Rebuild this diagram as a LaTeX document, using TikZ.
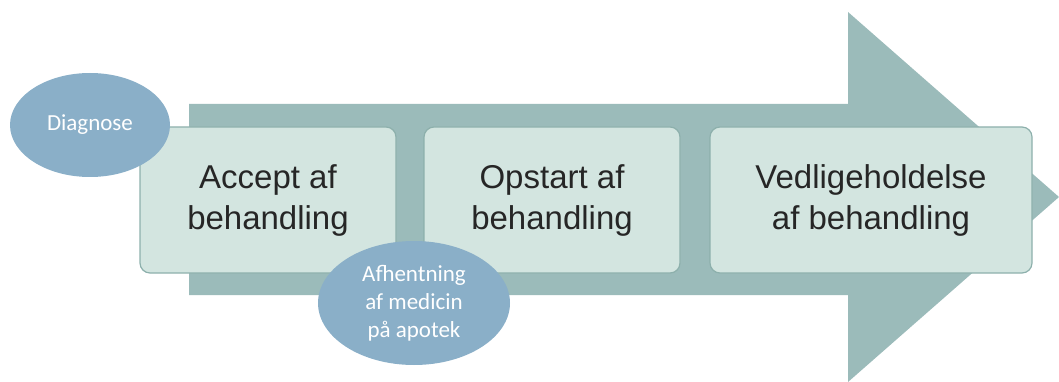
\documentclass[tikz,border=0pt]{standalone}
\usepackage{fontspec}
\setmainfont{Liberation Sans}
\newfontfamily\calibri{Carlito}
\usetikzlibrary{shapes.geometric}
\definecolor{pil}{HTML}{9BBBBA}
\definecolor{boks}{HTML}{D3E5E0}
\definecolor{kant}{HTML}{8DB0AC}
\definecolor{ellipsefarve}{HTML}{8AAFC8}
\tikzset{
  trin/.style={draw=kant,fill=boks,line width=1.2pt,rounded corners=10pt,
    minimum height=146pt,align=center,inner sep=0pt,
    font=\fontsize{33}{41}\selectfont,text=black!85},
  boble/.style={ellipse,fill=ellipsefarve,inner sep=0pt,align=center,
    text=white,font=\calibri\fontsize{23}{28}\selectfont}
}
\begin{document}
\begin{tikzpicture}[x=1pt,y=-1pt]
  \useasboundingbox (0,0) rectangle (1059,382);

  % Stor pil i baggrunden
  \fill[pil] (189,104) -- (848,104) -- (848,12) -- (1059,197)
    -- (848,382) -- (848,295) -- (189,295) -- cycle;

  % Trin i forloebet
  \node[trin,minimum width=256pt] (accept) at (268,200) {Accept af\\behandling};
  \node[trin,minimum width=256pt] (opstart) at (552,200) {Opstart af\\behandling};
  \node[trin,minimum width=322pt] (vedlige) at (871,200) {Vedligeholdelse\\af behandling};

  % Begivenheder
  \node[boble,minimum width=160pt,minimum height=104pt] (diagnose) at (90,125) {Diagnose};
  \node[boble,minimum width=192pt,minimum height=124pt] (apotek) at (414,303)
    {Afhentning\\af medicin\\på apotek};
\end{tikzpicture}
\end{document}
